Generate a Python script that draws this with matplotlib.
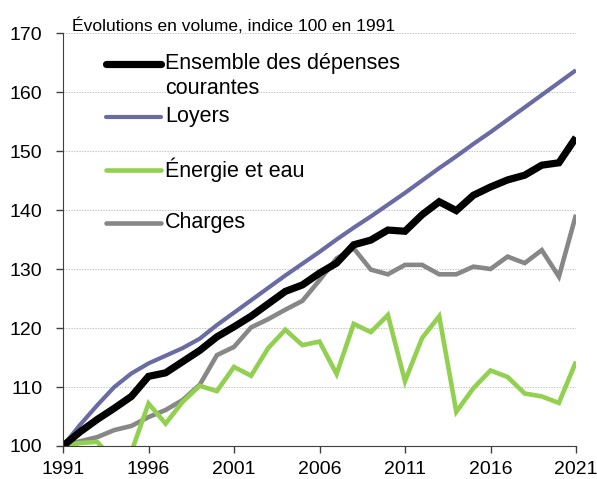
import matplotlib.pyplot as plt

plt.rcParams['font.family'] = ['Liberation Sans', 'DejaVu Sans']

years = list(range(1991, 2022))

ensemble = [100.0, 102.4, 104.5, 106.4, 108.4, 111.8, 112.4, 114.3, 116.2, 118.5,
            120.2, 122.0, 124.1, 126.2, 127.3, 129.3, 131.0, 134.1, 134.9, 136.6,
            136.4, 139.2, 141.4, 139.9, 142.5, 143.9, 145.1, 145.9, 147.6, 148.0,
            152.3]
loyers = [100.0, 103.6, 106.9, 110.0, 112.3, 114.0, 115.3, 116.6, 118.2, 120.5,
          122.6, 124.7, 126.8, 128.9, 130.9, 132.9, 135.0, 137.0, 138.9, 140.9,
          142.9, 145.0, 147.1, 149.1, 151.2, 153.2, 155.3, 157.4, 159.5, 161.6,
          163.7]
energie = [100.0, 100.5, 100.7, 97.5, 99.0, 107.2, 103.8, 107.5, 110.2, 109.3,
           113.4, 111.9, 116.6, 119.7, 117.1, 117.7, 112.2, 120.7, 119.3, 122.2,
           111.0, 118.3, 122.0, 105.8, 109.8, 112.8, 111.7, 108.9, 108.4, 107.3,
           114.3]
charges = [100.0, 100.8, 101.5, 102.7, 103.4, 104.9, 106.1, 107.8, 110.4, 115.4,
           116.8, 120.1, 121.5, 123.1, 124.6, 128.1, 131.8, 133.5, 129.9, 129.1,
           130.7, 130.7, 129.1, 129.1, 130.4, 130.0, 132.1, 131.0, 133.2, 128.7,
           139.2]

labels = ['Ensemble des dépenses', 'Loyers', 'Énergie et eau', 'Charges']
colors = ['#000000', '#6b6ba3', '#92d050', '#878787']
widths = [5.2, 3.0, 3.3, 3.3]

fig = plt.figure(figsize=(5.97, 4.79), dpi=100)
ax = fig.add_axes([63 / 597, 33 / 479, 513 / 597, 413 / 479])

for vals, c, w in zip([charges, energie, loyers, ensemble], colors[::-1], widths[::-1]):
    ax.plot(years, vals, color=c, lw=w, solid_capstyle='butt', solid_joinstyle='miter')

ax.set_xlim(1991, 2021)
ax.set_ylim(100, 170)
ax.set_xticks(range(1991, 2022, 5))
ax.set_yticks(range(100, 171, 10))
ax.yaxis.grid(True, color='#c0c0c0', ls=(0, (1.2, 1.2)), lw=0.8)
ax.set_axisbelow(True)
for s in ['top', 'right']:
    ax.spines[s].set_visible(False)
ax.spines['left'].set_color('#404040')
ax.spines['bottom'].set_color('#404040')
ax.tick_params(axis='both', labelsize=14, length=5, color='#404040', width=1)
ax.tick_params(axis='y', pad=10)
ax.tick_params(axis='x', pad=6)

# legende dans le graphique
leg_y = [0.926, 0.797, 0.668, 0.541]
for lab, c, w, y in zip(labels, colors, widths, leg_y):
    ax.plot([0.083, 0.192], [y, y], transform=ax.transAxes, color=c, lw=w,
            solid_capstyle='round', clip_on=False)
    ax.text(0.199, y, lab, transform=ax.transAxes, fontsize=15.5, va='center', ha='left')
ax.text(0.199, 0.866, 'courantes', transform=ax.transAxes, fontsize=15.5, va='center', ha='left')

fig.text(72 / 597, 1 - 31 / 479, 'Évolutions en volume, indice 100 en 1991', fontsize=12.5,
         va='baseline', ha='left')

fig.savefig('out.png', dpi=100)
